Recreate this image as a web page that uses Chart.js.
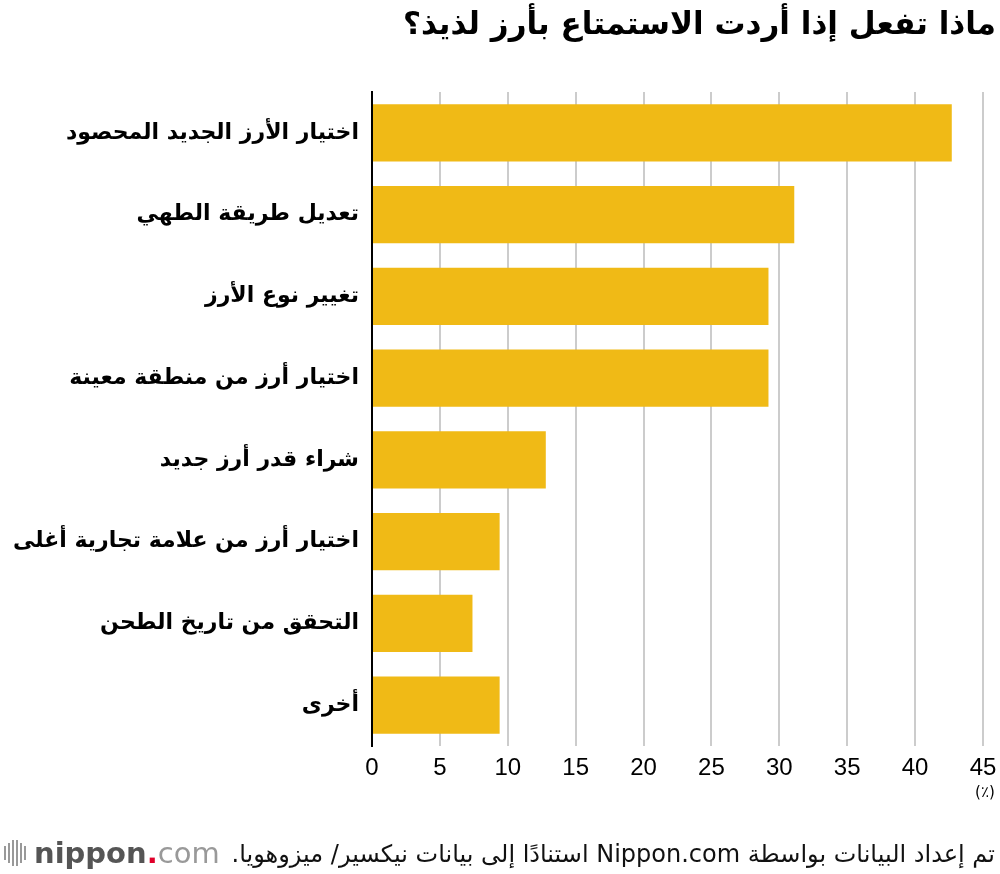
<!DOCTYPE html>
<html><head><meta charset="utf-8">
<script src="https://cdn.jsdelivr.net/npm/chart.js@4"></script>
<style>
html,body{margin:0;padding:0;background:#fff;}
#wrap{position:relative;width:1000px;height:874px;}
#c{position:absolute;left:0;top:0;}
#foot{position:absolute;right:5px;top:840px;font-family:"DejaVu Sans";font-size:24px;color:#111;direction:rtl;white-space:nowrap;}
#logo{position:absolute;left:4px;top:836px;font-family:"DejaVu Sans";font-size:29px;white-space:nowrap;display:flex;align-items:center;}
#logo .bars{display:inline-flex;gap:2px;margin-right:8px;height:26px;align-items:center}
#logo .bars i{display:block;width:2px;background:#999;}
#logo .n{color:#555;font-weight:bold;}
#logo .d{color:#e0002a;font-weight:bold;}
#logo .cm{color:#999;}
</style></head>
<body><div id="wrap"><canvas id="c" width="1000" height="874"></canvas>
<div id="logo"><span class="bars"><i style="height:14px"></i><i style="height:20px"></i><i style="height:26px"></i><i style="height:26px"></i><i style="height:20px"></i><i style="height:14px"></i></span><span class="n">nippon</span><span class="d">.</span><span class="cm">com</span></div>
<div id="foot">تم إعداد البيانات بواسطة Nippon.com استنادًا إلى بيانات نيكسير/ ميزوهويا.</div>
</div>
<script>
const titleText = "ماذا تفعل إذا أردت الاستمتاع بأرز لذيذ؟";
const categories = [
  "اختيار الأرز الجديد المحصود",
  "تعديل طريقة الطهي",
  "تغيير نوع الأرز",
  "اختيار أرز من منطقة معينة",
  "شراء قدر أرز جديد",
  "اختيار أرز من علامة تجارية أغلى",
  "التحقق من تاريخ الطحن",
  "أخرى"
];
const values = [42.7, 31.1, 29.2, 29.2, 12.8, 9.4, 7.4, 9.4];
const unitLabel = "(٪)";
const FONT = "DejaVu Sans";

const extras = {
  id: 'extras',
  afterDraw(chart) {
    const ctx = chart.ctx;
    ctx.save();
    ctx.fillStyle = '#000';
    ctx.direction = 'rtl';
    ctx.textAlign = 'right';
    ctx.textBaseline = 'middle';
    ctx.font = 'bold 31px "' + FONT + '"';
    ctx.fillText(titleText, 996, 26);
    const xs = chart.scales.x;
    ctx.font = '15px "' + FONT + '"';
    ctx.direction = 'ltr';
    ctx.textAlign = 'center';
    ctx.fillText(unitLabel, xs.getPixelForValue(45) + 2, 793);
    ctx.restore();
  }
};

new Chart(document.getElementById('c'), {
  type: 'bar',
  data: {
    labels: categories,
    datasets: [{ data: values, backgroundColor: '#F0BA16', borderWidth: 0, categoryPercentage: 0.7, barPercentage: 1 }]
  },
  options: {
    indexAxis: 'y',
    responsive: false,
    animation: false,
    layout: { padding: { top: 92, right: 0, left: 0, bottom: 0 } },
    plugins: { legend: { display: false }, tooltip: { enabled: false } },
    scales: {
      x: {
        min: 0, max: 45,
        ticks: { stepSize: 5, color: '#000', font: { family: 'Liberation Sans', size: 24 }, padding: 8 },
        grid: { color: '#cccccc', lineWidth: 2, drawTicks: false },
        border: { display: false },
        afterFit(s) { s.height = 128; s.paddingRight = 17; }
      },
      y: {
        ticks: { color: '#000', font: { family: FONT, size: 22, weight: 'bold' }, padding: 13 },
        grid: { display: false, drawTicks: false },
        border: { display: true, color: '#000', width: 2 },
        afterFit(s) { s.width = 372; }
      }
    }
  },
  plugins: [extras]
});
</script></body></html>
